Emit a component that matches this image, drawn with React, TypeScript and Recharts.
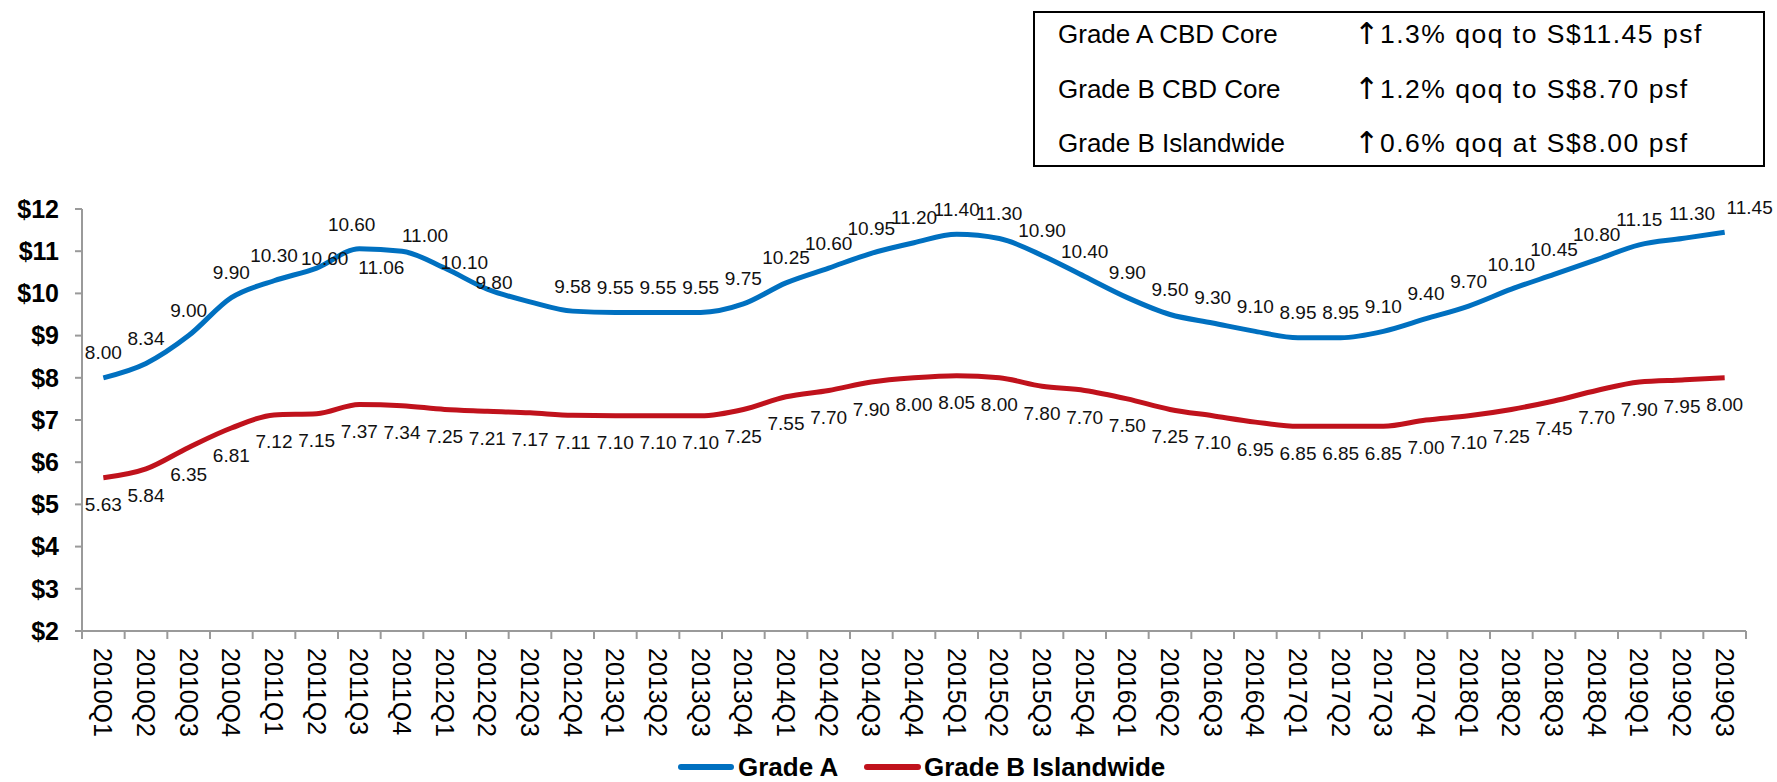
import React from "react";
import { LineChart, Line, XAxis, YAxis, LabelList } from "recharts";

const quarters = [
  "2010Q1","2010Q2","2010Q3","2010Q4",
  "2011Q1","2011Q2","2011Q3","2011Q4",
  "2012Q1","2012Q2","2012Q3","2012Q4",
  "2013Q1","2013Q2","2013Q3","2013Q4",
  "2014Q1","2014Q2","2014Q3","2014Q4",
  "2015Q1","2015Q2","2015Q3","2015Q4",
  "2016Q1","2016Q2","2016Q3","2016Q4",
  "2017Q1","2017Q2","2017Q3","2017Q4",
  "2018Q1","2018Q2","2018Q3","2018Q4",
  "2019Q1","2019Q2","2019Q3",
];

const gradeA = [
  8.0, 8.34, 9.0, 9.9,
  10.3, 10.6, 11.06, 11.0,
  10.6, 10.1, 9.8, 9.58,
  9.55, 9.55, 9.55, 9.75,
  10.25, 10.6, 10.95, 11.2,
  11.4, 11.3, 10.9, 10.4,
  9.9, 9.5, 9.3, 9.1,
  8.95, 8.95, 9.1, 9.4,
  9.7, 10.1, 10.45, 10.8,
  11.15, 11.3, 11.45,
];

const gradeBIslandwide = [
  5.63, 5.84, 6.35, 6.81,
  7.12, 7.15, 7.37, 7.34,
  7.25, 7.21, 7.17, 7.11,
  7.1, 7.1, 7.1, 7.25,
  7.55, 7.7, 7.9, 8.0,
  8.05, 8.0, 7.8, 7.7,
  7.5, 7.25, 7.1, 6.95,
  6.85, 6.85, 6.85, 7.0,
  7.1, 7.25, 7.45, 7.7,
  7.9, 7.95, 8.0,
];

const yTicks = [2, 3, 4, 5, 6, 7, 8, 9, 10, 11, 12];

const seriesNames = ["Grade A", "Grade B Islandwide"];

const boxLabels = ["Grade A CBD Core", "Grade B CBD Core", "Grade B Islandwide"];
const boxChanges = ["1.3% qoq to S$11.45 psf", "1.2% qoq to S$8.70 psf", "0.6% qoq at S$8.00 psf"];

const data = quarters.map((q, i) => ({ q, a: gradeA[i], b: gradeBIslandwide[i] }));

// ---- styling / layout ----
const FONT = "'Liberation Sans', Arial, Helvetica, sans-serif";
const BLUE = "#0070C0";
const RED = "#C0121C";
const AXIS = "#9a9a9a";
const W = 1777;
const H = 782;
const PLOT_LEFT = 82;
const PLOT_RIGHT = 1746;
const BAND = (PLOT_RIGHT - PLOT_LEFT) / quarters.length;
const HALF = BAND / 2;

// manual label nudges (as in the source picture)
const aLabelNudge: Record<number, [number, number]> = {
  5: [8, 15],
  6: [22, 44],
  7: [23, 9],
  8: [-93, -19],
  9: [-23, -2],
  10: [-36, 6],
  37: [10, 0],
  38: [25, 0],
};

const makeLabel = (baseDy: number, nudges: Record<number, [number, number]>) => (props: any) => {
  const { index, value } = props;
  const x = props.x ?? props.viewBox?.x;
  const y = props.y ?? props.viewBox?.y;
  if (x == null || y == null || value == null) return null;
  const n = nudges[index] || [0, 0];
  return (
    <text
      x={x + n[0]}
      y={y + baseDy + n[1]}
      textAnchor="middle"
      dominantBaseline="central"
      fontSize={19}
      fontFamily={FONT}
      fill="#111"
    >
      {Number(value).toFixed(2)}
    </text>
  );
};

const XTick = (props: any) => {
  const { x, y, payload, index } = props;
  const axisY = y - 17;
  return (
    <g>
      <line x1={x - HALF} x2={x - HALF} y1={axisY} y2={axisY + 8} stroke={AXIS} strokeWidth={2} />
      {index === quarters.length - 1 && (
        <line x1={x + HALF} x2={x + HALF} y1={axisY} y2={axisY + 8} stroke={AXIS} strokeWidth={2} />
      )}
      <text
        x={x}
        y={y}
        transform={`rotate(90 ${x} ${y})`}
        textAnchor="start"
        dominantBaseline="central"
        fontSize={25}
        fontFamily={FONT}
        fill="#000"
      >
        {payload.value}
      </text>
    </g>
  );
};

export default function App() {
  return (
    <div style={{ position: "absolute", left: 0, top: 0, width: W, height: H, background: "#fff", fontFamily: FONT }}>
      <LineChart
        width={W}
        height={H}
        data={data}
        margin={{ top: 209, right: W - PLOT_RIGHT, left: 0, bottom: 0 }}
      >
        <XAxis
          dataKey="q"
          type="category"
          interval={0}
          padding={{ left: HALF, right: HALF }}
          height={151}
          tickLine={false}
          tickSize={8}
          tickMargin={9}
          axisLine={{ stroke: AXIS, strokeWidth: 2 }}
          tick={<XTick />}
        />
        <YAxis
          type="number"
          domain={[2, 12]}
          ticks={yTicks}
          interval={0}
          width={PLOT_LEFT}
          tickSize={7}
          tickMargin={16}
          tickLine={{ stroke: AXIS, strokeWidth: 2 }}
          axisLine={{ stroke: AXIS, strokeWidth: 2 }}
          tickFormatter={(v: number) => `$${v}`}
          tick={{ fontSize: 25, fontWeight: "bold", fill: "#000", fontFamily: FONT }}
        />
        <Line
          type="monotone"
          dataKey="a"
          name={seriesNames[0]}
          stroke={BLUE}
          strokeWidth={5}
          dot={false}
          isAnimationActive={false}
        >
          <LabelList dataKey="a" content={makeLabel(-25, aLabelNudge)} />
        </Line>
        <Line
          type="monotone"
          dataKey="b"
          name={seriesNames[1]}
          stroke={RED}
          strokeWidth={5}
          dot={false}
          isAnimationActive={false}
        >
          <LabelList dataKey="b" content={makeLabel(27, {})} />
        </Line>
      </LineChart>

      <svg
        width={W}
        height={H}
        style={{ position: "absolute", left: 0, top: 0, pointerEvents: "none" }}
      >
        <rect x={1034} y={12} width={730} height={154} fill="#fff" stroke="#000" strokeWidth={2} />
        {boxLabels.map((label, i) => (
          <g key={i} fill="#000">
            <text x={1058} y={43 + i * 54.5} fontFamily={FONT} fontSize={26}>{label}</text>
            <text x={1354} y={44 + i * 54.5} fontFamily="'DejaVu Sans', sans-serif" fontSize={30}>{"\u2191"}</text>
            <text x={1380} y={43 + i * 54.5} fontFamily={FONT} fontSize={26.5} letterSpacing={1.5}>{boxChanges[i]}</text>
          </g>
        ))}
        <g fontFamily={FONT} fontSize={26} fontWeight="bold" fill="#000">
          <line x1={681} x2={731} y1={767} y2={767} stroke={BLUE} strokeWidth={6} strokeLinecap="round" />
          <text x={738} y={776}>{seriesNames[0]}</text>
          <line x1={867} x2={918} y1={767} y2={767} stroke={RED} strokeWidth={6} strokeLinecap="round" />
          <text x={924} y={776}>{seriesNames[1]}</text>
        </g>
      </svg>
    </div>
  );
}
